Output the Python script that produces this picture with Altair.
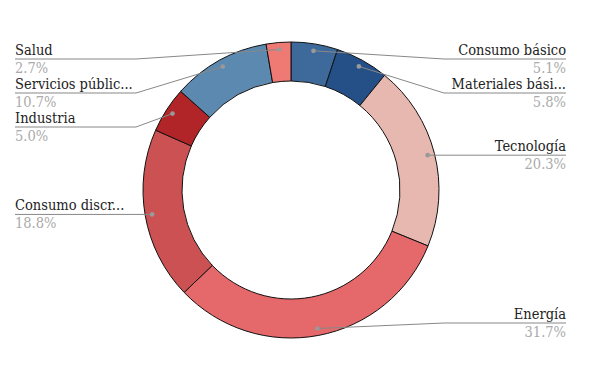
import altair as alt
import pandas as pd
import numpy as np

categories = ["Consumo básico", "Materiales bási...", "Tecnología", "Energía",
              "Consumo discr...", "Industria", "Servicios públic...", "Salud"]
values = [5.1, 5.8, 20.3, 31.7, 18.8, 5.0, 10.7, 2.7]
colors = ["#3d6a9b", "#244f87", "#e6b8b0", "#e5686a", "#cc5152", "#b12427", "#5b89b0", "#ef7a73"]

W, H = 584, 365
CX, CY = 283, 182
R_OUT, R_IN, R_DOT = 148, 109, 141
LEFT_X, RIGHT_X = 7, 558
LEFT_ELBOW, RIGHT_ELBOW = 128, 436
Y_MIN, Y_MAX, GAP = 51, 315, 34

df = pd.DataFrame({"name": categories, "value": values, "idx": range(len(values))})
total = sum(values)
cum = np.cumsum(values) - np.array(values) / 2
ang = cum / total * 2 * np.pi
df["dx"] = CX + R_DOT * np.sin(ang)
df["dy"] = CY - R_DOT * np.cos(ang)
df["side"] = np.where(np.sin(ang) >= 0, "right", "left")
df["pct"] = [f"{v:.1f}%" for v in values]

# label layout: clamp and push apart
df["ly"] = df["dy"].clip(Y_MIN, Y_MAX)
for side in ["left", "right"]:
    sub = df[df.side == side].sort_values("dy")
    prev = None
    for i in sub.index:
        y = df.at[i, "ly"]
        if prev is not None and y < prev + GAP:
            y = prev + GAP
        df.at[i, "ly"] = y
        prev = y
df["lx"] = np.where(df.side == "left", LEFT_X, RIGHT_X)
df["ex"] = np.where(df.side == "left", LEFT_ELBOW, RIGHT_ELBOW)
df["ny"] = df["ly"] - 4
df["py"] = df["ly"] + 14

rows = []
for _, r in df.iterrows():
    rows.append({"name": r["name"], "o": 0, "x": r["dx"], "y": r["dy"]})
    rows.append({"name": r["name"], "o": 1, "x": r["ex"], "y": r["ly"]})
    rows.append({"name": r["name"], "o": 2, "x": r["lx"], "y": r["ly"]})
lines = pd.DataFrame(rows)

xs = alt.Scale(domain=[0, W], range=[0, W])
ys = alt.Scale(domain=[0, H], range=[0, H])
FONT = "DejaVu Serif Condensed, DejaVu Serif"

arc = alt.Chart(df).mark_arc(outerRadius=R_OUT, innerRadius=R_IN, stroke="#111", strokeWidth=1).encode(
    theta=alt.Theta("value:Q", stack=True),
    order=alt.Order("idx:Q"),
    color=alt.Color("name:N", scale=alt.Scale(domain=categories, range=colors), legend=None),
    x=alt.value(CX), y=alt.value(CY),
)

leader = alt.Chart(lines).mark_line(color="#888", strokeWidth=1).encode(
    x=alt.X("x:Q", scale=xs, axis=None),
    y=alt.Y("y:Q", scale=ys, axis=None),
    detail="name:N",
    order="o:Q",
)

dots = alt.Chart(df).mark_circle(color="#999", size=22, opacity=1).encode(
    x=alt.X("dx:Q", scale=xs, axis=None),
    y=alt.Y("dy:Q", scale=ys, axis=None),
)

layers = [arc, leader, dots]
for side, align in [("left", "left"), ("right", "right")]:
    sdf = df[df.side == side]
    layers.append(alt.Chart(sdf).mark_text(align=align, baseline="alphabetic", font=FONT, fontSize=14.5, color="#222").encode(
        x=alt.X("lx:Q", scale=xs, axis=None), y=alt.Y("ny:Q", scale=ys, axis=None), text="name:N"))
    layers.append(alt.Chart(sdf).mark_text(align=align, baseline="alphabetic", font=FONT, fontSize=14.5, color="#aaa").encode(
        x=alt.X("lx:Q", scale=xs, axis=None), y=alt.Y("py:Q", scale=ys, axis=None), text="pct:N"))

chart = alt.layer(*layers).properties(
    width=W, height=H, padding=0, autosize=alt.AutoSizeParams(type="none")
).configure_view(stroke=None)

chart.save("out.html", embed_options={"renderer": "svg", "actions": False})
